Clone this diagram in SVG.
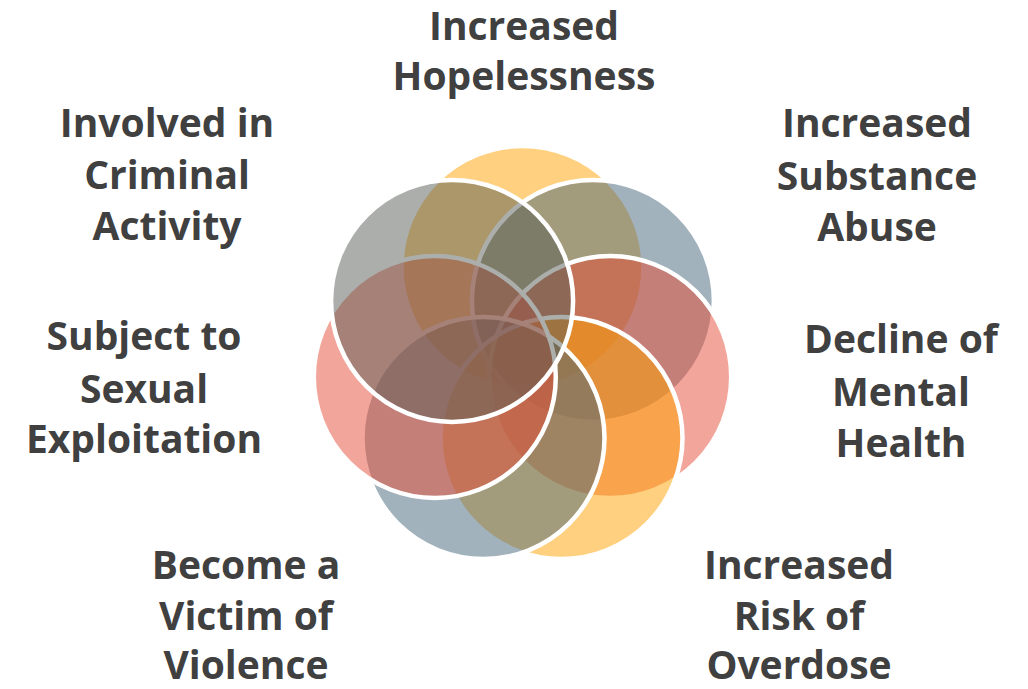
<svg xmlns="http://www.w3.org/2000/svg" width="1028" height="689" viewBox="0 0 1028 689">
  <style>
    .petal { stroke: #ffffff; stroke-width: 4.5; fill-opacity: 0.5; }
    .yellow { fill: #FFA100; }
    .blue { fill: #456579; }
    .pink { fill: #E54B35; }
    .gray { fill: #575D55; }
    .label { font-family: "Open Sans", "Liberation Sans", sans-serif; font-weight: 700; font-size: 39px; fill: #404040; text-anchor: middle; }
  </style>
  <rect width="1028" height="689" fill="#ffffff"/>

  <!-- Seven overlapping circles on a ring, drawn clockwise from the top -->
  <g id="hopelessness">
    <circle class="petal yellow" cx="522.5" cy="267" r="121"/>
    <text class="label" x="524" y="40">Increased</text>
    <text class="label" x="524" y="90">Hopelessness</text>
  </g>
  <g id="substance-abuse">
    <circle class="petal blue" cx="592.9" cy="300.9" r="121"/>
    <text class="label" x="877" y="137">Increased</text>
    <text class="label" x="877" y="190">Substance</text>
    <text class="label" x="877" y="241">Abuse</text>
  </g>
  <g id="mental-health">
    <circle class="petal pink" cx="610.2" cy="377" r="121"/>
    <text class="label" x="901" y="353">Decline of</text>
    <text class="label" x="901" y="406">Mental</text>
    <text class="label" x="901" y="457">Health</text>
  </g>
  <g id="overdose">
    <circle class="petal yellow" cx="561.5" cy="438.1" r="121"/>
    <text class="label" x="799" y="579">Increased</text>
    <text class="label" x="799" y="630">Risk of</text>
    <text class="label" x="799" y="679">Overdose</text>
  </g>
  <g id="violence">
    <circle class="petal blue" cx="483.5" cy="438.1" r="121"/>
    <text class="label" x="246" y="579">Become a</text>
    <text class="label" x="246" y="630">Victim of</text>
    <text class="label" x="246" y="679">Violence</text>
  </g>
  <g id="sexual-exploitation">
    <circle class="petal pink" cx="434.8" cy="377" r="121"/>
    <text class="label" x="144" y="350">Subject to</text>
    <text class="label" x="144" y="403">Sexual</text>
    <text class="label" x="144" y="453">Exploitation</text>
  </g>
  <g id="criminal-activity">
    <circle class="petal gray" cx="452.1" cy="300.9" r="121"/>
    <text class="label" x="167" y="137">Involved in</text>
    <text class="label" x="167" y="189">Criminal</text>
    <text class="label" x="167" y="240">Activity</text>
  </g>
</svg>
